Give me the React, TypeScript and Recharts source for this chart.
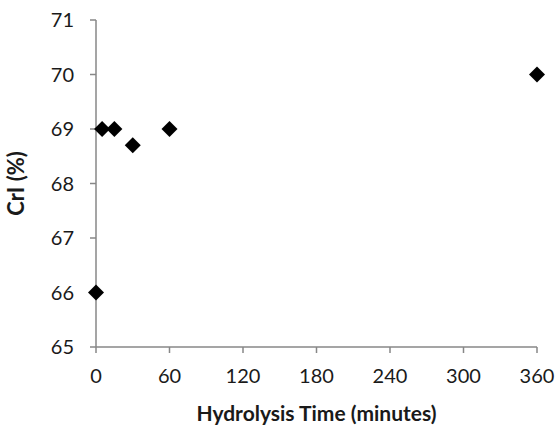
import React from "react";
import { ScatterChart, Scatter, XAxis, YAxis, Label } from "recharts";

const times = [0, 5, 15, 30, 60, 360];
const cri = [66, 69, 69, 68.7, 69, 70];
const xTicks = [0, 60, 120, 180, 240, 300, 360];
const yTicks = [65, 66, 67, 68, 69, 70, 71];

const data = times.map((t, i) => ({ time: t, cri: cri[i] }));

const Diamond = (props: any) => {
  const { cx, cy } = props;
  const r = 8;
  return (
    <polygon
      points={`${cx},${cy - r} ${cx + r},${cy} ${cx},${cy + r} ${cx - r},${cy}`}
      fill="#000"
    />
  );
};

const axisColor = "#878787";
const font = "Lato, 'Open Sans', sans-serif";

export default function App() {
  return (
    <div style={{ position: "absolute", left: 0, top: 0, background: "#fff" }}>
      <ScatterChart
        width={557}
        height={425}
        margin={{ top: 20, right: 20, bottom: 0, left: 0 }}
      >
        <XAxis
          type="number"
          dataKey="time"
          domain={[0, 360]}
          ticks={xTicks}
          interval={0}
          height={78}
          tickSize={6}
          tickMargin={16}
          axisLine={{ stroke: axisColor, strokeWidth: 1.5 }}
          tickLine={{ stroke: axisColor, strokeWidth: 1.5 }}
          tick={{ fill: "#1a1a1a", fontSize: 20, fontFamily: font }}
        >
          <Label
            value="Hydrolysis Time (minutes)"
            position="insideBottom"
            offset={4}
            style={{ fill: "#1a1a1a", fontSize: 21, fontWeight: "bold", fontFamily: font }}
          />
        </XAxis>
        <YAxis
          type="number"
          dataKey="cri"
          domain={[65, 71]}
          ticks={yTicks}
          interval={0}
          width={96}
          tickSize={6}
          tickMargin={16}
          axisLine={{ stroke: axisColor, strokeWidth: 1.5 }}
          tickLine={{ stroke: axisColor, strokeWidth: 1.5 }}
          tick={{ fill: "#1a1a1a", fontSize: 20, fontFamily: font }}
        >
          <Label
            value="CrI (%)"
            angle={-90}
            position="insideLeft"
            offset={16}
            style={{ fill: "#1a1a1a", fontSize: 22, fontWeight: "bold", fontFamily: font, textAnchor: "middle" }}
          />
        </YAxis>
        <Scatter data={data} shape={<Diamond />} isAnimationActive={false} />
      </ScatterChart>
    </div>
  );
}
